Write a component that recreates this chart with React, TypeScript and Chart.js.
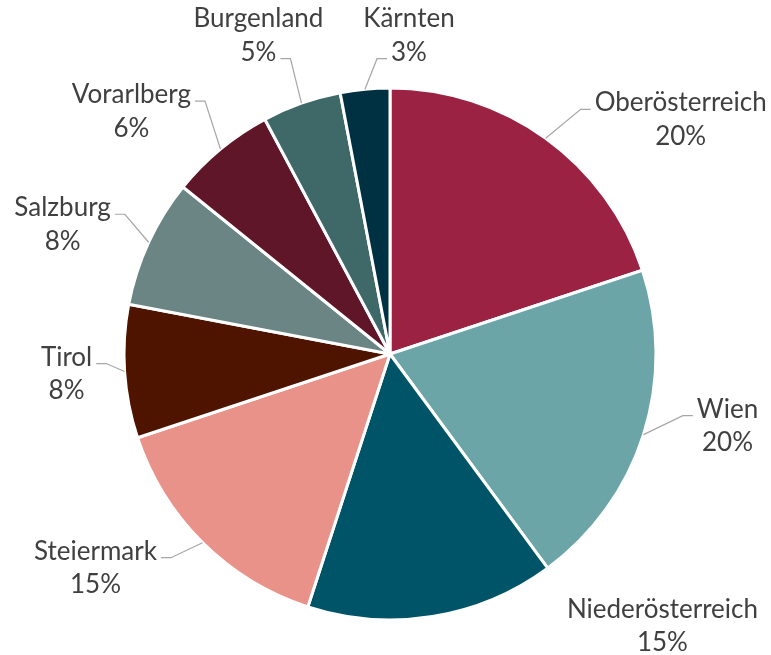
import React, { useEffect, useRef } from "react";
import { Chart, registerables } from "chart.js";

Chart.register(...registerables);

// ---- data ----
const regions = [
  "Oberösterreich",
  "Wien",
  "Niederösterreich",
  "Steiermark",
  "Tirol",
  "Salzburg",
  "Vorarlberg",
  "Burgenland",
  "Kärnten",
];
const shares = [19.9, 20.0, 15.1, 14.9, 8.1, 7.8, 6.4, 4.8, 3.0];
const percentLabels = ["20%", "20%", "15%", "15%", "8%", "8%", "6%", "5%", "3%"];

// ---- styling ----
const sliceColors = [
  "#9B2242",
  "#6BA5A7",
  "#005468",
  "#E8928A",
  "#4E1400",
  "#6B8585",
  "#5E1628",
  "#3F6869",
  "#003142",
];
// label placement relative to each slice's outer mid-point (text centre x, first baseline y)
const labelDx = [135, 84, 230, -107, -58, -86, -89, -43, 44];
const labelDy = [-27, -17, 1, 17, -6, -26, -46, -76, -62];
// which text line the leader line attaches to (-1 = no leader)
const leaderLine = [0, 0, -1, 0, 0, 0, 0, 1, 1];

const FONT = "26px Lato";
const LINE_H = 33.5;
const TEXT_COLOR = "#404040";
const LEADER_COLOR = "#A6A6A6";

const labelPlugin = {
  id: "outsideLabels",
  afterDraw(chart: any) {
    const ctx = chart.ctx as CanvasRenderingContext2D;
    const meta = chart.getDatasetMeta(0);
    ctx.save();
    ctx.font = FONT;
    ctx.fillStyle = TEXT_COLOR;
    ctx.textAlign = "center";
    ctx.textBaseline = "alphabetic";
    meta.data.forEach((arc: any, i: number) => {
      const p = arc.getProps(["x", "y", "startAngle", "endAngle", "outerRadius"], true);
      const mid = (p.startAngle + p.endAngle) / 2;
      const ax = p.x + Math.cos(mid) * p.outerRadius;
      const ay = p.y + Math.sin(mid) * p.outerRadius;
      const lx = ax + labelDx[i];
      const ly = ay + labelDy[i];
      const lines = [regions[i], percentLabels[i]];
      lines.forEach((t, k) => ctx.fillText(t, lx, ly + k * LINE_H));
      const li = leaderLine[i];
      if (li >= 0) {
        const w = ctx.measureText(lines[li]).width;
        const hy = ly + li * LINE_H - 2;
        const dir = ax > lx ? 1 : -1;
        const ex = lx + dir * (w / 2 + 4);
        const bx = ex + dir * 10;
        ctx.beginPath();
        ctx.strokeStyle = LEADER_COLOR;
        ctx.lineWidth = 1.2;
        ctx.moveTo(ex, hy);
        ctx.lineTo(bx, hy);
        ctx.lineTo(ax, ay);
        ctx.stroke();
      }
    });
    ctx.restore();
  },
};

export default function App() {
  const ref = useRef<HTMLCanvasElement | null>(null);
  useEffect(() => {
    document.body.style.margin = "0";
    if (!ref.current) return;
    const chart = new Chart(ref.current, {
      type: "pie",
      data: {
        labels: regions,
        datasets: [
          {
            data: shares,
            backgroundColor: sliceColors,
            borderColor: "#FFFFFF",
            borderWidth: 3,
          },
        ],
      },
      options: {
        responsive: false,
        animation: false,
        layout: { padding: { left: 122.5, right: 113.5, top: 86.5, bottom: 33.5 } },
        plugins: {
          legend: { display: false },
          tooltip: { enabled: false },
        },
      },
      plugins: [labelPlugin],
    });
    return () => chart.destroy();
  }, []);
  return (
    <div style={{ width: 771, height: 655, background: "#FFFFFF" }}>
      <canvas ref={ref} width={771} height={655} />
    </div>
  );
}
